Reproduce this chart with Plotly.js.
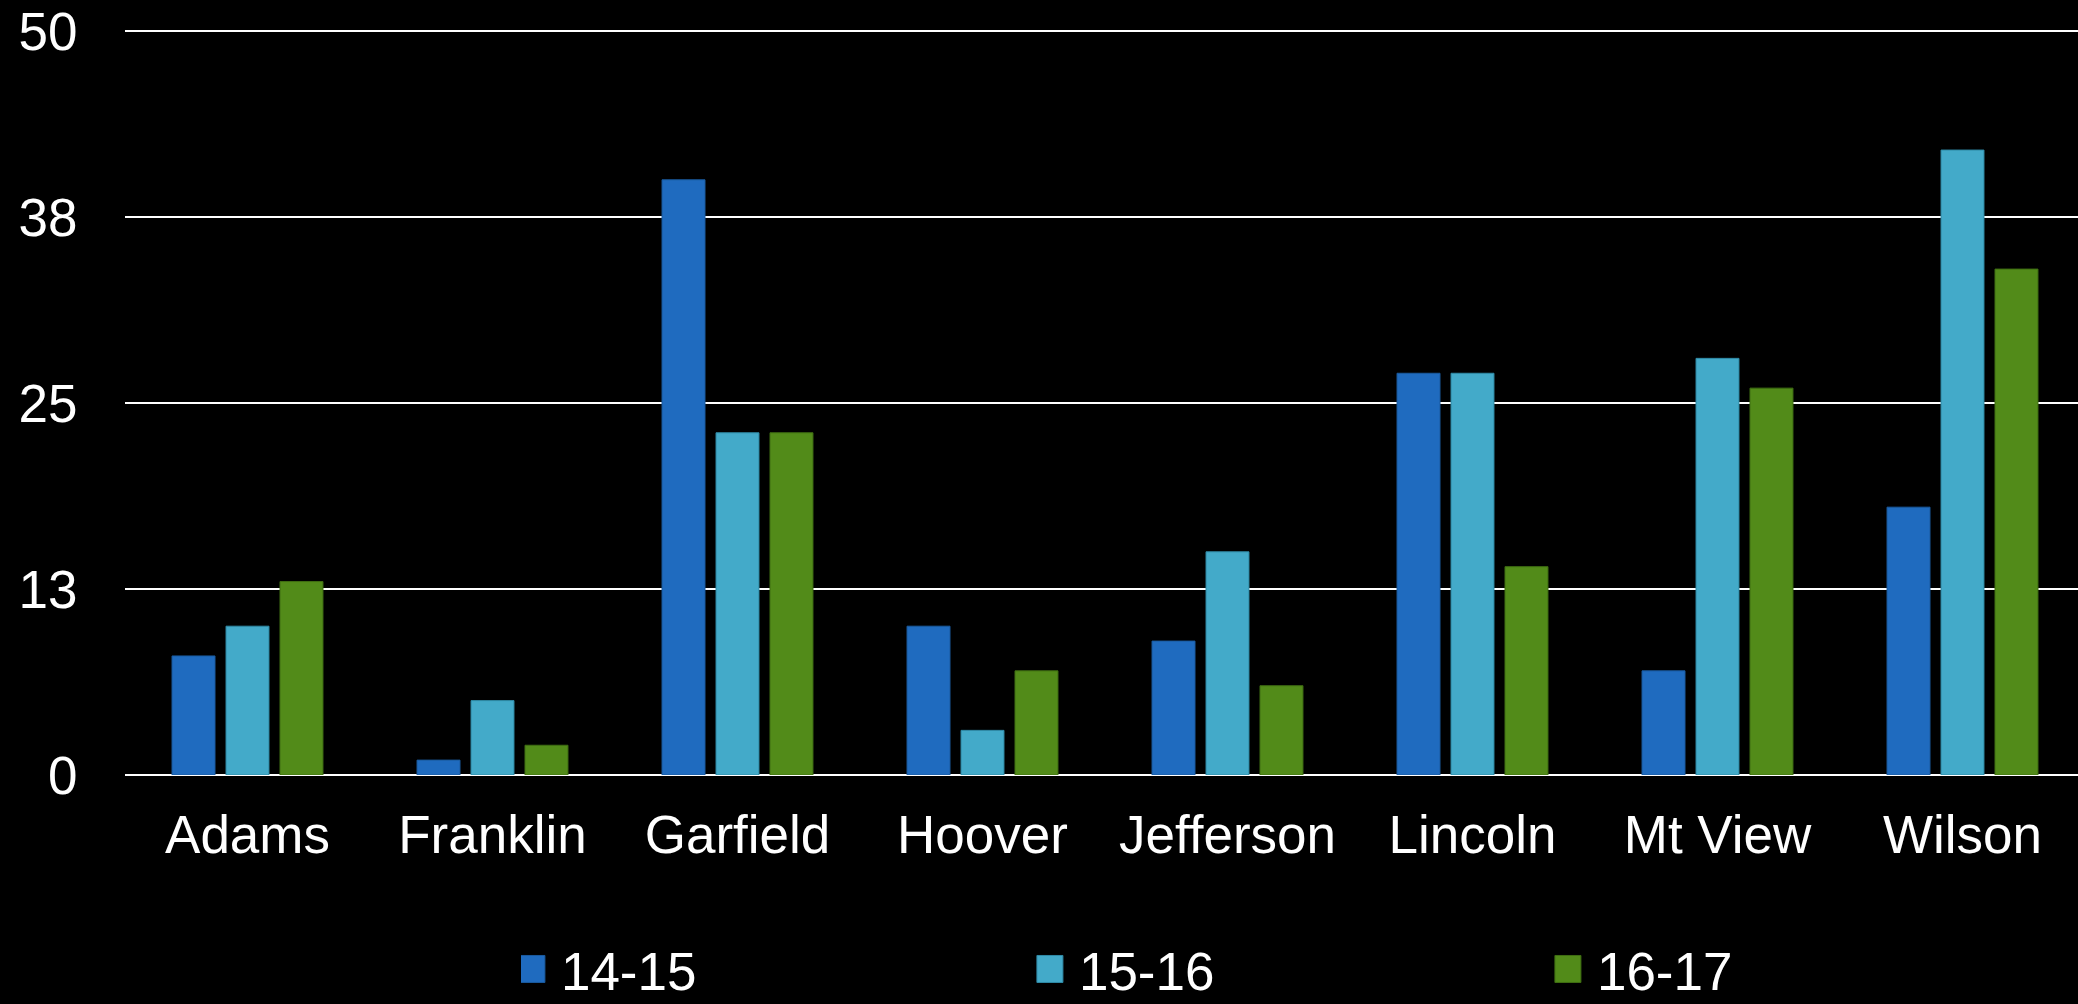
<!DOCTYPE html>
<html>
<head>
<meta charset="utf-8">
<script src="https://cdn.plot.ly/plotly-3.0.1.min.js"></script>
<style>
  html, body { margin: 0; padding: 0; background: #000; overflow: hidden; }
  #chart { width: 2090px; height: 1004px; }
</style>
</head>
<body>
<div id="chart"></div>
<script>
// Schools on the category axis
const schools = ['Adams', 'Franklin', 'Garfield', 'Hoover', 'Jefferson', 'Lincoln', 'Mt View', 'Wilson'];

// One series per school year
const seriesNames = ['14-15', '15-16', '16-17'];
const values1415 = [8, 1, 40, 10, 9, 27, 7, 18];
const values1516 = [10, 5, 23, 3, 15, 27, 28, 42];
const values1617 = [13, 2, 23, 7, 6, 14, 26, 34];

// Value-axis ticks and their printed labels
const yTickValues = [0, 12.5, 25, 37.5, 50];
const yTickLabels = ['0', '13', '25', '38', '50'];

const colors = ['#1F6BBF', '#43AAC9', '#528B19'];
const edgeColors = ['#1A5A9E', '#2F8AA6', '#3F6E12'];
const seriesValues = [values1415, values1516, values1617];

const FONT = '"Liberation Sans", Arial, Helvetica, sans-serif';

const traces = seriesValues.map((vals, i) => ({
  type: 'bar',
  name: seriesNames[i],
  x: schools,
  y: vals,
  marker: { color: colors[i], line: { color: edgeColors[i], width: 1 } },
  hoverinfo: 'skip'
}));

const layout = {
  width: 2090,
  height: 1004,
  margin: { l: 125, r: 5, t: 27, b: 229, autoexpand: false },
  paper_bgcolor: '#000000',
  plot_bgcolor: '#000000',
  font: { family: FONT, color: '#ffffff', size: 53 },
  barmode: 'group',
  bargap: 0.339,
  bargroupgap: 0.204,
  showlegend: true,
  legend: {
    orientation: 'h',
    x: 0.202,
    xanchor: 'left',
    y: -0.2594,
    yanchor: 'middle',
    entrywidth: 473,
    entrywidthmode: 'pixels',
    font: { family: FONT, size: 53, color: '#ffffff' },
    bgcolor: 'rgba(0,0,0,0)',
    borderwidth: 0,
    traceorder: 'normal'
  },
  xaxis: {
    type: 'category',
    showgrid: false,
    showline: false,
    zeroline: false,
    ticks: 'outside',
    ticklen: 13,
    tickcolor: 'rgba(0,0,0,0)',
    tickfont: { family: FONT, size: 53, color: '#ffffff' }
  },
  yaxis: {
    range: [0, 50.27],
    tickmode: 'array',
    tickvals: yTickValues,
    ticktext: yTickLabels,
    showgrid: true,
    gridcolor: '#ffffff',
    gridwidth: 2,
    zeroline: true,
    zerolinecolor: '#ffffff',
    zerolinewidth: 2,
    showline: false,
    ticks: 'outside',
    ticklen: 36,
    tickcolor: 'rgba(0,0,0,0)',
    tickfont: { family: FONT, size: 53, color: '#ffffff' }
  }
};

// Larger legend swatches, sized to the label text
function enlargeSwatches(gd) {
  gd.querySelectorAll('.legend .legendpoints path').forEach(p => {
    p.setAttribute('d', 'M4,13.5H-22V-13.5H4Z');
  });
}

Plotly.newPlot('chart', traces, layout, { staticPlot: true, displayModeBar: false }).then(gd => {
  enlargeSwatches(gd);
  gd.on('plotly_afterplot', () => enlargeSwatches(gd));
});
</script>
</body>
</html>
